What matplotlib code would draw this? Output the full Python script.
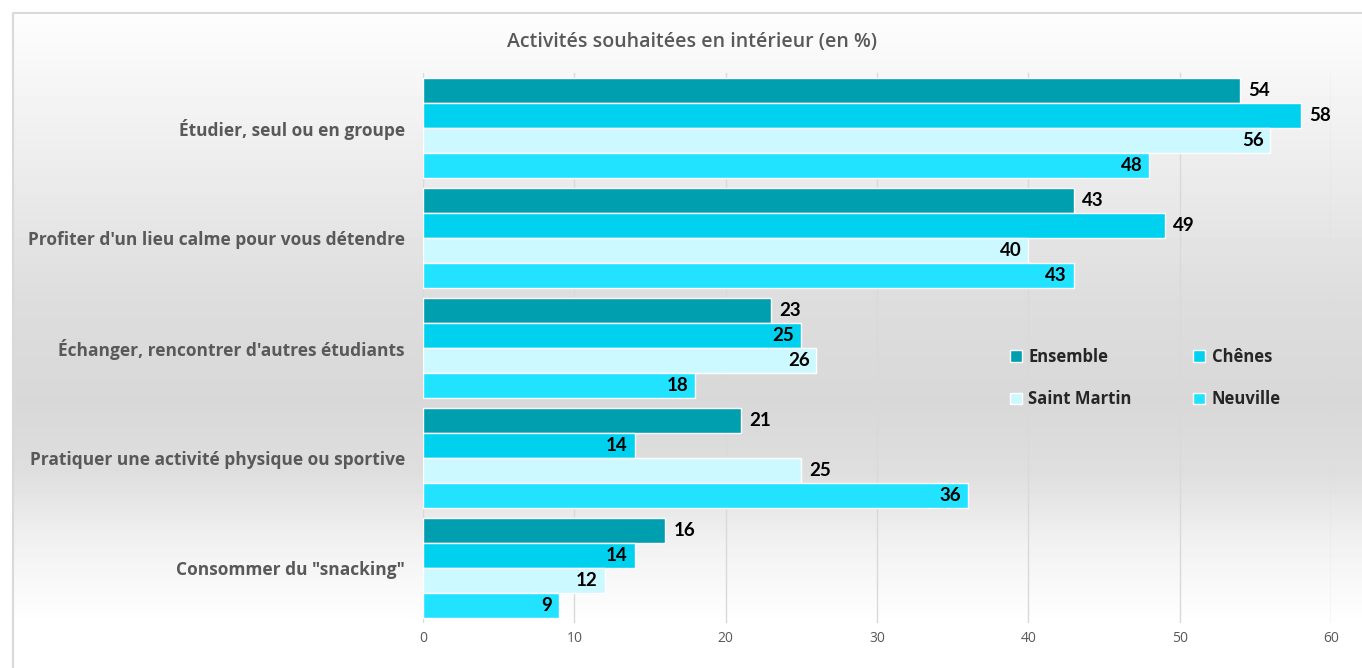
import numpy as np
import matplotlib
matplotlib.use("Agg")
import matplotlib.pyplot as plt

categories = [
    "Étudier, seul ou en groupe",
    "Profiter d'un lieu calme pour vous détendre",
    "Échanger, rencontrer d'autres étudiants",
    "Pratiquer une activité physique ou sportive",
    'Consommer du "snacking"',
]
series_names = ["Ensemble", "Chênes", "Saint Martin", "Neuville"]
ensemble = [54, 43, 23, 21, 16]
chenes = [58, 49, 25, 14, 14]
saint_martin = [56, 40, 26, 25, 12]
neuville = [48, 43, 18, 36, 9]
values = [ensemble, chenes, saint_martin, neuville]
colors = ["#009fb0", "#00d1ee", "#ccf8ff", "#22e3ff"]
# label placement per series/category: 'o' outside end, 'i' inside end
placement = [
    ["o", "o", "o", "o", "o"],
    ["o", "o", "i", "i", "i"],
    ["i", "i", "i", "o", "i"],
    ["i", "i", "i", "i", "i"],
]
xticks = [0, 10, 20, 30, 40, 50, 60]

W, H = 1362, 668
fig = plt.figure(figsize=(W / 100, H / 100), dpi=100)

# background gradient
bg = fig.add_axes([0, 0, 1, 1], zorder=-10)
ys = np.array([0, 15, 150, 300, 400, 470, 550, 620, 668])
gs = np.array([255, 253, 238, 221, 216, 222, 243, 254, 255])
yy = np.arange(H)
col = np.interp(yy, ys, gs) / 255.0
img = np.repeat(col[:, None], 2, axis=1)
bg.imshow(img, cmap="gray", vmin=0, vmax=1, aspect="auto", extent=[0, W, H, 0])
bg.fill_between([0, W], 0, 12, color="white")
bg.fill_between([0, 12], 0, H, color="white")
bg.plot([12.5, 12.5, W], [H, 12.5, 12.5], color="#d9d9d9", lw=1.5)
bg.set_xlim(0, W)
bg.set_ylim(H, 0)
bg.axis("off")

ax = fig.add_axes([423 / W, 1 - 623 / H, (1331 - 423) / W, (623 - 73) / H])
ax.set_facecolor("none")

n = len(categories)
bh = 0.227
y = np.arange(n)
handles = []
for s in range(4):
    pos = y - 1.5 * bh + s * bh
    b = ax.barh(pos, values[s], height=bh, color=colors[s], edgecolor="white",
                linewidth=1.0, label=series_names[s], zorder=3)
    handles.append(b)
    for i in range(n):
        v = values[s][i]
        if placement[s][i] == "o":
            ax.annotate(str(v), (v, pos[i]), xytext=(6, 0), textcoords="offset points",
                        ha="left", va="center", fontsize=13.5, fontweight="bold",
                        color="black", family="Lato", zorder=4)
        else:
            ax.annotate(str(v), (v, pos[i]), xytext=(-5, 0), textcoords="offset points",
                        ha="right", va="center", fontsize=13.5, fontweight="bold",
                        color="black", family="Lato", zorder=4)

ax.set_xlim(0, 60)
ax.set_ylim(n - 0.5, -0.5)
ax.set_xticks(xticks)
ax.set_xticklabels([str(t) for t in xticks], fontsize=10, color="#595959", family="Open Sans")
ax.set_yticks(y)
ax.set_yticklabels(categories, fontsize=12.5, fontweight="bold", color="#595959", family="Open Sans")
ax.tick_params(axis="both", length=0)
ax.tick_params(axis="x", pad=6)
ax.tick_params(axis="y", pad=13)
ax.grid(axis="x", color="#d9d9d9", lw=1, zorder=0)
for sp in ax.spines.values():
    sp.set_visible(False)

fig.text(692 / W, 1 - 42 / H, "Activités souhaitées en intérieur (en %)", ha="center", va="center",
         fontsize=14, color="#595959", family="Open Sans", fontweight="semibold")

order = [0, 2, 1, 3]
leg = ax.legend([handles[k] for k in order], [series_names[k] for k in order],
                loc="upper left", bbox_to_anchor=((995 - 423) / (1331 - 423), (623 - 333) / 550),
                ncol=2, frameon=False, handlelength=0.7, handleheight=0.7,
                columnspacing=3.7, labelspacing=1.45, handletextpad=0.4,
                prop={"family": "Open Sans", "weight": "bold", "size": 12})
for t in leg.get_texts():
    t.set_color("#262626")

fig.savefig("out.png", dpi=100)
